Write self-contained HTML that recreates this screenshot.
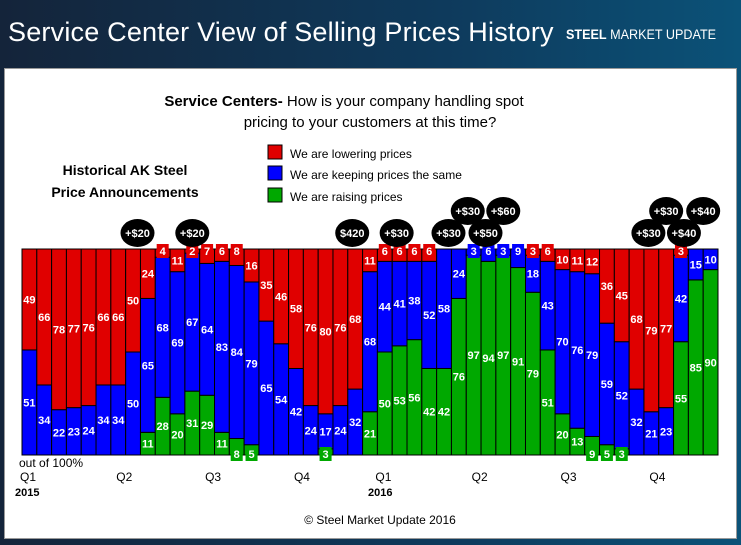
<!DOCTYPE html>
<html><head><meta charset="utf-8">
<style>
body{margin:0;width:741px;height:545px;overflow:hidden;background:linear-gradient(90deg,#14243a,#0e3a5c 60%,#0b5278);font-family:"Liberation Sans",sans-serif;}
#title{position:absolute;left:8px;top:17px;color:#fff;font-size:27px;letter-spacing:0.2px;white-space:nowrap}
#logo{position:absolute;left:566px;top:26px;color:#fff;font-size:14px;white-space:nowrap;transform:scaleX(0.9);transform-origin:left top}
#panel{position:absolute;left:4px;top:68px;width:731px;height:469px;background:#fff;border:1px solid #999}
</style></head><body>
<div id="title">Service Center View of Selling Prices History</div>
<div id="logo"><b>STEEL</b> MARKET UPDATE</div>
<div id="panel"></div>
<svg id="chart" width="741" height="545" style="position:absolute;left:0;top:0">
<text x="344" y="106" text-anchor="middle" font-size="15"><tspan font-weight="bold">Service Centers-</tspan> How is your company handling spot</text>
<text x="370" y="127" text-anchor="middle" font-size="15">pricing to your customers at this time?</text>
<text x="125" y="175" text-anchor="middle" font-size="14" font-weight="bold">Historical AK Steel</text>
<text x="125" y="197" text-anchor="middle" font-size="14" font-weight="bold">Price Announcements</text>
<g>
<rect x="268" y="145" width="14" height="14" fill="#e00000" stroke="#000"/><text x="290" y="158" font-size="12">We are lowering prices</text>
<rect x="268" y="166" width="14" height="14" fill="#0000ff" stroke="#000"/><text x="290" y="179" font-size="12">We are keeping prices the same</text>
<rect x="268" y="188" width="14" height="14" fill="#00a800" stroke="#000"/><text x="290" y="201" font-size="12">We are raising prices</text>
</g>
<g id="bars"></g>
<g id="bubbles"></g>
<text x="19" y="467" font-size="12">out of 100%</text>
<g id="xlabels" font-size="12"></g>
<text x="15" y="496" font-size="11" font-weight="bold">2015</text>
<text x="368" y="496" font-size="11" font-weight="bold">2016</text>
<text x="380" y="524" text-anchor="middle" font-size="12">© Steel Market Update 2016</text>
</svg>
<script>
const lowering=[49,66,78,77,76,66,66,50,24,4,11,2,7,6,8,16,35,46,58,76,80,76,68,11,6,6,6,6,0,0,0,0,0,0,3,6,10,11,12,36,45,68,79,77,3,0,0];
const same=[51,34,22,23,24,34,34,50,65,68,69,67,64,83,84,79,65,54,42,24,17,24,32,68,44,41,38,52,58,24,3,6,3,9,18,43,70,76,79,59,52,32,21,23,42,15,10];
const raising=[0,0,0,0,0,0,0,0,11,28,20,31,29,11,8,5,0,0,0,0,3,0,0,21,50,53,56,42,42,76,97,94,97,91,79,51,20,13,9,5,3,0,0,0,55,85,90];
const quarters=["Q1","Q2","Q3","Q4","Q1","Q2","Q3","Q4"];
const quarterBar=[0,6.5,12.5,18.5,24,30.5,36.5,42.5];
const bubbleLabels=["+$20","+$20","$420","+$30","+$30","+$30","+$50","+$60","+$30","+$30","+$40","+$40"];
const bubbleBar=[7.8,11.5,22.3,25.3,28.8,30.1,31.3,32.5,42.3,43.5,44.7,46];
const bubbleRow=[0,0,0,0,0,1,0,1,0,1,0,1];
const X0=22,X1=718,Y0=455,Y1=249,N=lowering.length,bw=(X1-X0)/N;
const xs=i=>X0+i*bw, ys=v=>Y0-(Y0-Y1)*v/100;
const NS="http://www.w3.org/2000/svg";
const g=document.getElementById('bars');
function mk(t,a,p){const e=document.createElementNS(NS,t);for(const k in a)e.setAttribute(k,a[k]);(p||g).appendChild(e);return e;}
const cols={r:"#e00000",b:"#0000ff",g:"#00a800"};
const labels=[];
for(let i=0;i<N;i++){
  const segs=[["g",raising[i],0],["b",same[i],raising[i]],["r",lowering[i],raising[i]+same[i]]];
  for(const [c,v,b] of segs){
    if(v<=0)continue;
    const r=mk('rect',{x:xs(i),y:ys(b+v),width:bw,height:ys(b)-ys(b+v),fill:cols[c],stroke:"#000","stroke-width":1});
    
    
    labels.push([i,c,v,b]);
  }
}
for(const [i,c,v,b] of labels){
  let cy=(ys(b)+ys(b+v))/2;
  const cx=xs(i)+bw/2;
  if(v<10){
    if(b+v>=99) cy=ys(100)+2; else if(b===0) cy=ys(0)-1;
    const bx=mk('rect',{x:cx-6,y:cy-7,width:12,height:14,fill:cols[c]});
    
    
  }
  const t=mk('text',{x:cx,y:cy+4,"text-anchor":"middle","font-size":11,"font-weight":"bold",fill:"#fff"});
  
  
  t.textContent=v;
}
const bg=document.getElementById('bubbles');
bubbleLabels.forEach((s,k)=>{
  const cx=X0+bubbleBar[k]*bw, cy=bubbleRow[k]?211:233;
  const e=mk('ellipse',{cx:cx,cy:cy,rx:17,ry:14,fill:"#000"},bg);
  
  
  const t=mk('text',{x:cx,y:cy+4,"text-anchor":"middle","font-size":11,"font-weight":"bold",fill:"#fff"},bg);
  
  
  t.textContent=s;
});
const xl=document.getElementById('xlabels');
quarters.forEach((q,k)=>{
  const t=mk('text',{x:X0+quarterBar[k]*bw-2,y:481,"font-size":12},xl);
  
  
  t.textContent=q;
});
</script>
</body></html>
